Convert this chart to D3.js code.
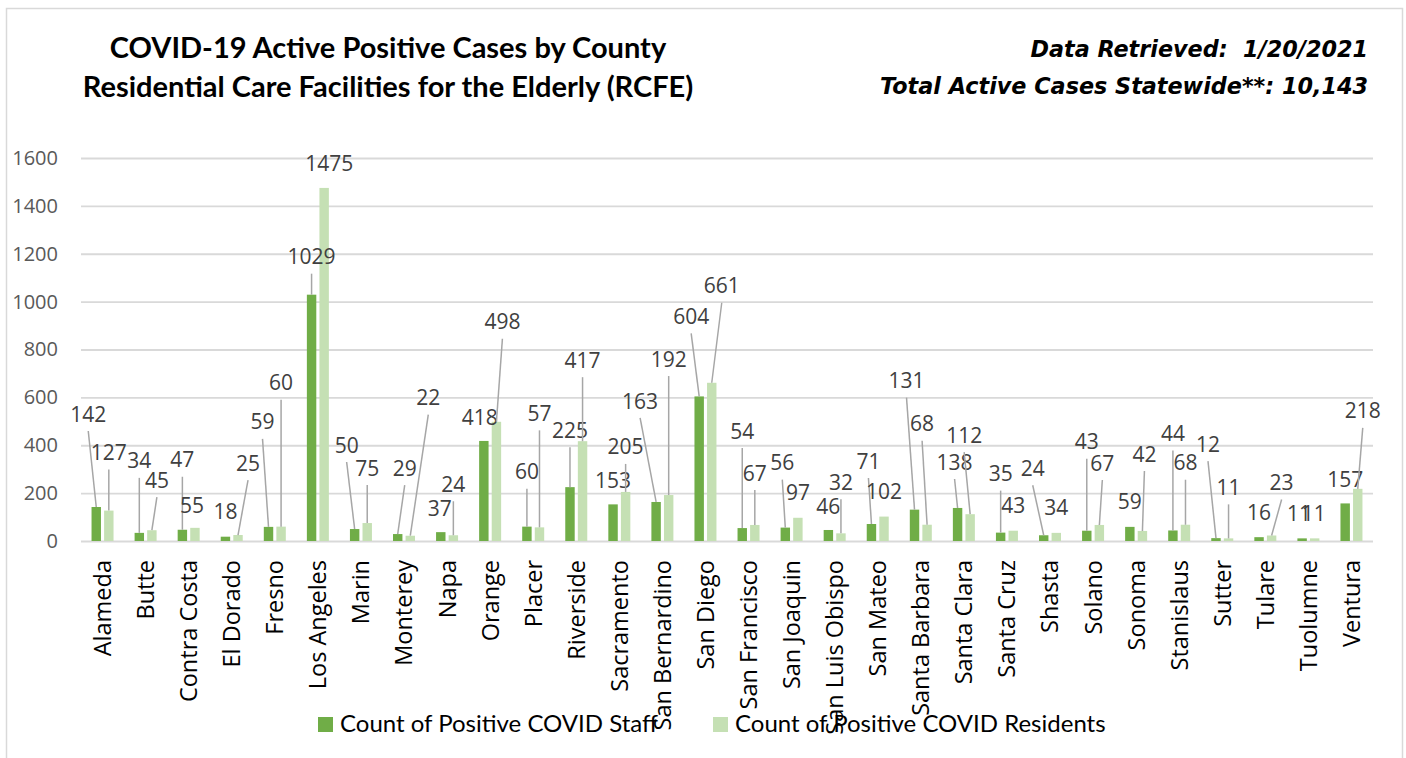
<!DOCTYPE html>
<html>
<head>
<meta charset="utf-8">
<script src="https://cdn.jsdelivr.net/npm/d3@7"></script>
<style>
  body { margin: 0; background: #ffffff; }
  svg { display: block; }
</style>
</head>
<body>
<svg id="chart" width="1406" height="758"></svg>
<script>
// Counties and the two series.
const counties = ['Alameda', 'Butte', 'Contra Costa', 'El Dorado', 'Fresno', 'Los Angeles', 'Marin',
    'Monterey', 'Napa', 'Orange', 'Placer', 'Riverside', 'Sacramento', 'San Bernardino', 'San Diego',
    'San Francisco', 'San Joaquin', 'San Luis Obispo', 'San Mateo', 'Santa Barbara', 'Santa Clara',
    'Santa Cruz', 'Shasta', 'Solano', 'Sonoma', 'Stanislaus', 'Sutter', 'Tulare', 'Tuolumne', 'Ventura'];
const staff = [142, 34, 47, 18, 59, 1029, 50, 29, 37, 418, 60, 225, 153, 163, 604,
    54, 56, 46, 71, 131, 138, 35, 24, 43, 59, 44, 12, 16, 11, 157];
const residents = [127, 45, 55, 25, 60, 1475, 75, 22, 24, 498, 57, 417, 205, 192, 661,
    67, 97, 32, 102, 68, 112, 43, 34, 67, 42, 68, 11, 23, 11, 218];
const seriesNames = ['Count of Positive COVID Staff', 'Count of Positive COVID Residents'];
const yTicks = [0, 200, 400, 600, 800, 1000, 1200, 1400, 1600];

// Label nudges (px, relative to the top of the bar), the way they were dragged in the original.
const staffLabelNudge = [[-8, -93], [0, -72], [0, -70], [0, -25], [-6, -105], [0, -38], [-8, -84],
    [7, -66], [-1, -24], [-4, -24], [0, -55], [0, -57], [0, -24], [-16, -101], [-8, -80],
    [0, -97], [-3, -65], [0, -24], [-3, -63], [-8, -129], [-3, -46], [0, -59], [-11, -67],
    [0, -89], [0, -25], [0, -97], [-8, -94], [0, -25], [-3, -25], [0, -24]];
const residentLabelNudge = [[0, -58], [5, -50], [-3, -22], [10, -72], [0, -144], [5, -24], [0, -55],
    [18, -138], [0, -51], [6, -100], [0, -114], [0, -81], [0, -45], [0, -136], [10, -97],
    [0, -52], [0, -25], [0, -51], [0, -25], [-5, -101], [-6, -79], [0, -25], [0, -25],
    [3, -62], [2, -77], [0, -62], [0, -51], [10, -53], [-1, -25], [5, -78]];

const colors = ['#70AD47', '#C5E0B4'];

const svg = d3.select('#chart');

// Outer chart border, like the Excel chart area.
svg.append('rect')
    .attr('x', 6.5)
    .attr('y', 8.5)
    .attr('width', 1396)
    .attr('height', 760)
    .attr('fill', 'none')
    .attr('stroke', '#D9D9D9')
    .attr('stroke-width', 1.5);

const plot = {left: 81, right: 1373, top: 158, bottom: 541};

const x0 = d3.scaleBand()
    .domain(counties)
    .range([plot.left, plot.right])
    .paddingInner(0)
    .paddingOuter(0);

const groupWidth = 22;
const x1 = d3.scaleBand()
    .domain([0, 1])
    .range([0, groupWidth])
    .paddingInner(0.25);

const y = d3.scaleLinear()
    .domain([0, 1600])
    .range([plot.bottom, plot.top]);

// Y axis with gridlines
const yAxis = d3.axisLeft(y)
    .tickValues(yTicks)
    .tickSize(-(plot.right - plot.left))
    .tickPadding(23)
    .tickFormat(d3.format('d'));

const yg = svg.append('g')
    .attr('transform', 'translate(' + plot.left + ',0)')
    .call(yAxis);
yg.select('.domain').remove();
yg.selectAll('.tick line')
    .attr('stroke', '#D9D9D9')
    .attr('stroke-width', 1.8);
yg.selectAll('.tick text')
    .attr('fill', '#595959')
    .style('font-family', '"Open Sans", sans-serif')
    .style('font-size', '20px');

// Bars
const barX = (i, s) => x0(counties[i]) + x0.bandwidth() / 2 - groupWidth / 2 + x1(s);
const barCenter = (i, s) => barX(i, s) + x1.bandwidth() / 2;

[staff, residents].forEach(function(values, s) {
    svg.append('g')
        .selectAll('rect')
        .data(values)
        .join('rect')
        .attr('x', (d, i) => barX(i, s))
        .attr('y', d => y(d))
        .attr('width', x1.bandwidth())
        .attr('height', d => y(0) - y(d))
        .attr('fill', colors[s]);
});

// Data labels with leader lines
const labelLayer = svg.append('g');
[[staff, staffLabelNudge], [residents, residentLabelNudge]].forEach(function(pair, s) {
    const values = pair[0];
    const nudges = pair[1];
    values.forEach(function(v, i) {
        const bx = barCenter(i, s);
        const by = y(v);
        const lx = bx + nudges[i][0];
        const ly = by + nudges[i][1];
        if (nudges[i][1] < -32) {
            labelLayer.append('line')
                .attr('x1', lx)
                .attr('y1', ly + 17)
                .attr('x2', bx)
                .attr('y2', by)
                .attr('stroke', '#A6A6A6')
                .attr('stroke-width', 1.5);
        }
        labelLayer.append('text')
            .attr('x', lx)
            .attr('y', ly)
            .attr('dy', '0.36em')
            .attr('text-anchor', 'middle')
            .attr('fill', '#404040')
            .style('font-family', '"Open Sans", sans-serif')
            .style('font-size', '21px')
            .text(v);
    });
});

// X axis: rotated county names
const xAxis = d3.axisBottom(x0).tickSize(0).tickPadding(0);
const xg = svg.append('g')
    .attr('transform', 'translate(0,' + plot.bottom + ')')
    .call(xAxis);
xg.select('.domain').remove();
xg.selectAll('.tick text')
    .attr('transform', 'rotate(-90)')
    .attr('x', -19)
    .attr('y', 0)
    .attr('dy', '0.36em')
    .attr('text-anchor', 'end')
    .attr('fill', '#000000')
    .style('font-family', '"Open Sans", sans-serif')
    .style('font-size', '23.5px');

// Legend
const legend = svg.append('g');
const legendX = [318, 713];
seriesNames.forEach(function(name, s) {
    legend.append('rect')
        .attr('x', legendX[s])
        .attr('y', 717)
        .attr('width', 15)
        .attr('height', 15)
        .attr('fill', colors[s]);
    legend.append('text')
        .attr('x', legendX[s] + 22)
        .attr('y', 732)
        .attr('fill', '#000000')
        .style('font-family', 'Lato, sans-serif')
        .style('font-size', '24px')
        .text(name);
});

// Titles
const title = svg.append('text')
    .attr('text-anchor', 'middle')
    .attr('fill', '#000000')
    .style('font-family', 'Lato, sans-serif')
    .style('font-weight', 'bold')
    .style('font-size', '29px');
title.append('tspan').attr('x', 388).attr('y', 58).text('COVID-19 Active Positive Cases by County');
title.append('tspan').attr('x', 388).attr('y', 97).text('Residential Care Facilities for the Elderly (RCFE)');

const info = svg.append('text')
    .attr('text-anchor', 'end')
    .attr('fill', '#000000')
    .style('font-family', '"DejaVu Sans", sans-serif')
    .style('font-weight', 'bold')
    .style('font-style', 'italic')
    .style('font-size', '22.3px')
    .style('white-space', 'pre');
info.append('tspan').attr('x', 1368).attr('y', 57).text('Data Retrieved:  1/20/2021');
info.append('tspan').attr('x', 1368).attr('y', 94).text('Total Active Cases Statewide**: 10,143');
</script>
</body>
</html>
